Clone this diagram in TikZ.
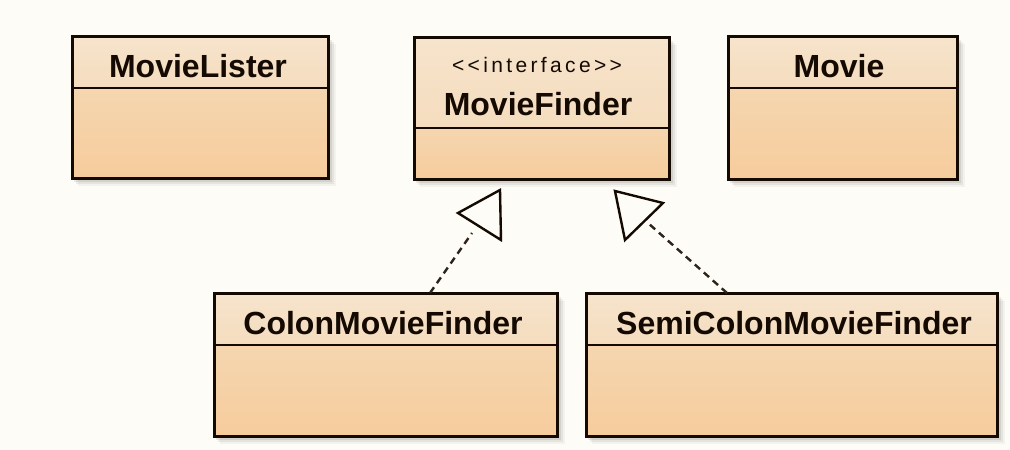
\documentclass[tikz,border=0pt]{standalone}
\usepackage{fontspec}
\setmainfont{Liberation Sans}
\newfontfamily\stereofont[LetterSpace=16]{Liberation Sans}
\usetikzlibrary{fit}

\definecolor{paper}{RGB}{253,252,246}
\definecolor{ink}{RGB}{20,10,2}
\definecolor{headtop}{RGB}{246,228,204}
\definecolor{headbot}{RGB}{245,220,190}
\definecolor{bodytop}{RGB}{245,214,176}
\definecolor{bodybot}{RGB}{246,204,156}

\tikzset{
  classframe/.style={draw=ink, line width=3pt, inner sep=0pt, outer sep=0pt},
  divider/.style={draw=ink, line width=2.6pt},
  classname/.style={anchor=base, inner sep=0pt, text=ink,
    font=\fontsize{32}{32}\selectfont\bfseries},
  stereotype/.style={anchor=base, inner sep=0pt, text=ink,
    font=\fontsize{21}{21}\stereofont},
  realize/.style={draw=ink!90, line width=2.4pt, dash pattern=on 7pt off 5pt},
  hollowtip/.style={draw=ink, line width=2.4pt, fill=paper, line join=miter},
}

% class box: name, x1, y1, x2, y2, y of compartment line
\newcommand{\umlclassbox}[6]{%
  \foreach \s/\o in {8/0.04,6/0.06,4/0.08}{%
    \fill[black, opacity=\o] (#2+\s-2,#3+\s) rectangle (#4+\s,#5+\s);}
  \shade[top color=bodytop, bottom color=bodybot] (#2,#6) rectangle (#4,#5);
  \shade[top color=headtop, bottom color=headbot] (#2,#3) rectangle (#4,#6);
  \draw[divider] (#2,#6) -- (#4,#6);
  \node[classframe, fit={(#2,#3) (#4,#5)}] (#1) {};
}

\begin{document}
\begin{tikzpicture}[x=1pt, y=-1pt]
  \fill[paper] (0,0) rectangle (1010,450);
  \useasboundingbox (0,0) rectangle (1010,450);

  \umlclassbox{lister}{72}{36}{328}{178}{88}
  \umlclassbox{finder}{414}{37}{669}{179}{128}
  \umlclassbox{movie}{728}{36}{957}{179}{88}
  \umlclassbox{colon}{214}{293}{557}{436}{345}
  \umlclassbox{semicolon}{586}{293}{997}{436}{345}

  \node[classname] (listerName) at (198,77) {MovieLister};
  \node[stereotype] (finderStereo) at (537,72) {<<interface>>};
  \node[classname] (finderName) at (538,115) {MovieFinder};
  \node[classname] (movieName) at (839,77) {Movie};
  \node[classname] (colonName) at (383,334) {ColonMovieFinder};
  \node[classname] (semicolonName) at (794,334) {SemiColonMovieFinder};

  % realization of MovieFinder by the two finders
  \coordinate (colonEnd) at (472,233);
  \coordinate (semiEnd) at (648,223);
  \draw[realize] (colon.north -| 430,0) -- (colonEnd);
  \draw[realize] (semicolon.north -| 727,0) -- (semiEnd);

  \draw[hollowtip] (500,190) -- (458,213) -- (501,240) -- cycle;
  \draw[hollowtip] (615,191) -- (663,203) -- (625,240) -- cycle;
\end{tikzpicture}
\end{document}
